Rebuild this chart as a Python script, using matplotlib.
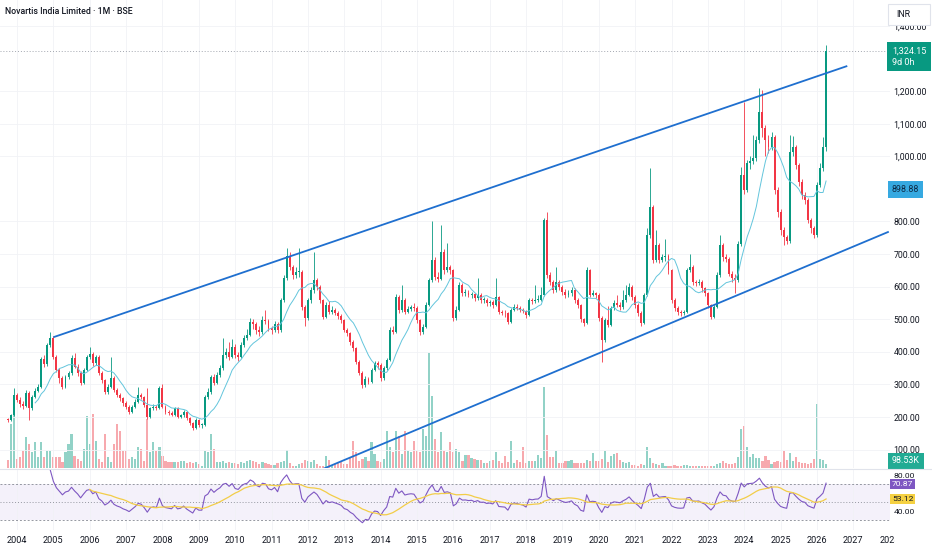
import numpy as np
import pandas as pd
import matplotlib
matplotlib.use("Agg")
import matplotlib.pyplot as plt
from matplotlib.patches import Rectangle

plt.rcParams['font.family'] = ['Roboto', 'DejaVu Sans']

# ---------------- data (monthly, Oct 2003 .. Apr 2026) ----------------
start_month = "2003-10"
closes = [
    190, 206, 268,
    252, 240, 234, 275, 228, 263, 281, 293, 377, 364, 421, 444,
    385, 344, 319, 293, 324, 334, 380, 355, 334, 304, 344, 385,
    395, 365, 385, 334, 314, 278, 293, 319, 283, 268, 258, 242,
    232, 217, 232, 247, 268, 262, 237, 201, 227, 232, 228, 288,
    232, 217, 212, 207, 227, 201, 205, 217, 196, 181, 166, 191,
    176, 176, 262, 278, 324, 305, 330, 350, 390, 400, 385, 416,
    390, 385, 420, 442, 452, 493, 485, 467, 460, 498, 495, 472,
    467, 487, 467, 559, 626, 695, 660, 636, 645, 646, 539, 503,
    559, 590, 621, 600, 559, 508, 544, 523, 530, 520, 510, 498,
    467, 457, 430, 411, 370, 335, 298, 318, 309, 345, 365, 360,
    319, 350, 375, 467, 462, 569, 528, 559, 523, 533, 538, 535,
    498, 462, 477, 544, 620, 682, 631, 625, 707, 651, 660, 651,
    503, 529, 605, 580, 582, 575, 578, 564, 575, 559, 560, 549,
    552, 545, 569, 523, 520, 518, 493, 529, 539, 535, 530, 525,
    513, 559, 555, 559, 560, 575, 805, 636, 615, 590, 615, 600,
    585, 575, 580, 590, 559, 544, 500, 488, 651, 575, 580, 575,
    503, 436, 498, 483, 534, 549, 545, 539, 559, 575, 600, 569,
    544, 520, 488, 575, 759, 845, 682, 728, 682, 690, 695, 651,
    559, 535, 523, 520, 523, 651, 661, 615, 612, 615, 595, 580,
    544, 508, 539, 636, 728, 692, 685, 640, 626, 620, 730, 942,
    897, 978, 985, 994, 1050, 1137, 1086, 1050, 1030, 1060, 897, 830,
    774, 753, 740, 1014, 1029, 973, 922, 880, 866, 805, 780, 759,
    912, 963, 1030, 1324.15,
]
opens = [
    193, 190, 206,
    268, 252, 240, 234, 275, 228, 263, 281, 293, 377, 364, 421,
    444, 385, 344, 319, 293, 324, 334, 380, 355, 334, 304, 344,
    385, 395, 365, 385, 334, 314, 278, 293, 319, 283, 268, 258,
    242, 232, 217, 232, 247, 268, 262, 237, 201, 227, 232, 228,
    288, 232, 217, 212, 207, 227, 201, 205, 217, 196, 181, 166,
    191, 176, 176, 262, 278, 324, 305, 330, 350, 390, 400, 385,
    416, 390, 385, 420, 442, 452, 493, 485, 467, 460, 498, 495,
    472, 467, 487, 467, 559, 626, 695, 660, 636, 645, 646, 539,
    503, 559, 590, 621, 600, 559, 508, 544, 523, 530, 520, 510,
    498, 467, 457, 430, 411, 370, 335, 298, 318, 309, 345, 365,
    360, 319, 350, 375, 467, 462, 569, 528, 559, 523, 533, 538,
    535, 498, 462, 477, 544, 620, 682, 631, 625, 707, 651, 660,
    651, 503, 529, 605, 580, 582, 575, 578, 564, 575, 559, 560,
    549, 552, 545, 569, 523, 520, 518, 493, 529, 539, 535, 530,
    525, 513, 559, 555, 559, 560, 575, 805, 636, 615, 590, 615,
    600, 585, 575, 580, 590, 559, 544, 500, 488, 651, 575, 580,
    575, 503, 436, 498, 483, 534, 549, 545, 539, 559, 575, 600,
    569, 544, 520, 488, 575, 759, 845, 682, 728, 682, 690, 695,
    651, 559, 535, 523, 520, 523, 651, 661, 615, 612, 615, 595,
    580, 544, 508, 539, 636, 728, 692, 685, 640, 626, 620, 730,
    942, 897, 978, 985, 994, 1050, 1137, 1086, 1050, 1030, 1060, 897,
    830, 774, 753, 740, 1014, 1029, 973, 922, 880, 866, 805, 780,
    759, 912, 963, 1030,
]
highs = [
    198, 210, 289,
    275, 262, 248, 282, 280, 268, 290, 300, 385, 392, 428, 462,
    450, 392, 350, 325, 330, 342, 392, 398, 362, 340, 350, 392,
    416, 400, 392, 390, 342, 318, 300, 385, 325, 290, 275, 262,
    248, 236, 238, 255, 292, 275, 266, 288, 232, 240, 238, 296,
    302, 236, 222, 218, 232, 230, 210, 222, 220, 200, 186, 196,
    194, 182, 268, 288, 330, 332, 338, 360, 442, 412, 430, 440,
    425, 400, 430, 452, 470, 505, 500, 492, 478, 510, 528, 502,
    480, 495, 492, 566, 635, 720, 705, 668, 660, 718, 652, 545,
    565, 600, 705, 628, 605, 562, 552, 555, 540, 535, 525, 515,
    502, 472, 460, 436, 415, 375, 340, 325, 322, 352, 372, 372,
    365, 356, 382, 475, 480, 578, 574, 605, 565, 540, 545, 550,
    540, 502, 485, 552, 628, 800, 690, 645, 789, 715, 733, 668,
    655, 540, 615, 612, 592, 590, 585, 582, 626, 580, 568, 565,
    560, 558, 626, 572, 530, 528, 522, 535, 548, 546, 540, 535,
    530, 566, 565, 605, 575, 600, 812, 830, 645, 620, 660, 622,
    605, 592, 590, 600, 595, 565, 548, 505, 660, 655, 590, 585,
    580, 510, 505, 540, 542, 560, 575, 552, 590, 605, 612, 606,
    575, 550, 525, 582, 780, 963, 850, 775, 735, 700, 745, 700,
    655, 565, 540, 530, 530, 658, 700, 668, 622, 625, 620, 600,
    585, 548, 545, 645, 758, 735, 700, 692, 648, 640, 740, 968,
    1168, 990, 1000, 1065, 1062, 1208, 1203, 1095, 1065, 1075, 1065, 905,
    838, 782, 760, 1065, 1062, 1035, 980, 930, 890, 872, 812, 785,
    920, 980, 1060, 1340,
]
lows = [
    186, 188, 203,
    245, 232, 226, 230, 191, 222, 258, 276, 290, 355, 358, 415,
    378, 338, 305, 285, 288, 318, 330, 350, 326, 298, 300, 340,
    378, 358, 360, 328, 305, 270, 272, 290, 276, 262, 250, 235,
    225, 210, 212, 228, 244, 255, 230, 195, 198, 222, 222, 225,
    228, 210, 206, 202, 204, 196, 196, 200, 190, 176, 160, 163,
    170, 168, 174, 255, 272, 298, 300, 322, 345, 382, 375, 380,
    382, 372, 380, 415, 435, 448, 470, 455, 450, 455, 485, 465,
    455, 460, 458, 462, 552, 620, 650, 625, 628, 630, 530, 480,
    498, 550, 582, 590, 550, 500, 503, 515, 515, 512, 502, 490,
    460, 448, 422, 402, 362, 328, 290, 293, 302, 305, 340, 348,
    312, 315, 345, 372, 455, 458, 520, 522, 515, 518, 525, 525,
    490, 452, 455, 472, 540, 615, 622, 615, 620, 640, 645, 640,
    495, 498, 525, 572, 572, 568, 565, 555, 558, 550, 550, 540,
    542, 535, 540, 515, 512, 508, 485, 488, 525, 528, 522, 518,
    505, 510, 548, 550, 552, 555, 570, 628, 605, 580, 585, 590,
    575, 565, 568, 572, 550, 535, 492, 478, 485, 568, 570, 565,
    495, 370, 430, 475, 478, 528, 538, 530, 532, 552, 570, 560,
    535, 510, 478, 485, 570, 750, 672, 675, 672, 675, 680, 640,
    550, 525, 512, 510, 512, 520, 645, 605, 602, 605, 585, 570,
    535, 500, 503, 535, 630, 680, 675, 632, 615, 580, 615, 725,
    885, 890, 960, 975, 985, 1040, 1060, 1000, 1010, 1020, 885, 815,
    760, 728, 730, 735, 1000, 960, 910, 870, 855, 795, 765, 750,
    752, 905, 955, 1015,
]
volume_k = [
    240, 1320, 1650, 270, 330, 510, 930, 720, 480, 780,
    330, 780, 330, 510, 510, 330, 330, 330, 180, 480,
    720, 1020, 360, 270, 210, 570, 1560, 720, 1620, 810,
    270, 180, 1020, 330, 180, 720, 1320, 1110, 510, 510,
    270, 330, 270, 630, 570, 210, 1470, 480, 780, 510,
    630, 360, 210, 180, 180, 180, 180, 210, 210, 150,
    180, 150, 180, 120, 60, 510, 480, 1020, 570, 180,
    180, 210, 150, 180, 150, 150, 120, 180, 150, 210,
    240, 210, 180, 120, 180, 150, 120, 90, 90, 150,
    180, 210, 540, 150, 60, 60, 120, 150, 240,
    210, 180, 240, 120, 60, 60, 360, 240, 90, 120,
    150, 180, 120, 120, 330, 810, 480, 210, 270, 330,
    210, 780, 420, 210, 180, 270, 1110, 630, 480, 1110,
    960, 420, 1110, 510, 480, 810, 510, 480, 1170, 960,
    3450, 2160, 870, 480, 1080, 510, 480, 780, 480, 570,
    480, 210,
    390, 390, 300, 270, 240, 240, 150, 150, 210, 240,
    480, 210, 150, 360, 180, 810, 150, 240, 180, 630,
    150, 210, 210, 210, 390, 300, 2430, 990, 330, 330,
    510, 150, 150, 210, 210, 240, 150, 150, 150, 150,
    240, 210, 450, 210, 210, 270, 510, 180, 360, 420,
    450, 240, 180, 150, 180, 90, 90, 60, 120, 90,
    630, 300, 150, 120, 90, 150, 60, 60, 60, 90,
    60, 60, 90, 90, 60, 60, 60, 60, 60, 60,
    60, 60, 60, 120, 150, 210, 150, 120, 120, 150,
    330, 1170, 1260, 630, 330, 420, 300, 300, 210, 360,
    240, 120, 180, 210, 180, 510, 240, 450, 210, 330,
    180, 150, 150, 120, 150, 270, 1920, 270, 240, 98.53,
]
years = list(range(2004, 2029))
# 900 and 1,300 sit under the value boxes in the reference, so they are not shown
price_ticks = [100, 200, 300, 400, 500, 600, 700, 800, 1000, 1100, 1200, 1400]
upper_line = ([15.0, 277.0], [445.0, 1277.0])
lower_line = ([104.0, 290.7], [41.0, 768.7])
last_price = 1324.15
ma_label, rsi_label, rsi_ma_label, vol_label = 898.88, 70.87, 53.12, "98.53K"

n = len(closes)
assert len(opens) == n and len(highs) == n and len(lows) == n and len(volume_k) == n

idx = np.arange(n)
o = np.array(opens, float); c = np.array(closes, float)
h = np.array(highs, float); l = np.array(lows, float)
v = np.array(volume_k, float)
up = c >= o

GREEN, RED = '#089981', '#f23645'
VGREEN, VRED = '#92d2c7', '#f7a9ae'
TXT = '#131722'

# indicators
cs = pd.Series(c)
ma10 = cs.rolling(10).mean()
d = cs.diff()
gain = d.clip(lower=0); loss = -d.clip(upper=0)
ag = gain.ewm(alpha=1/14, adjust=False, min_periods=14).mean()
al = loss.ewm(alpha=1/14, adjust=False, min_periods=14).mean()
rsi = 100 - 100 / (1 + ag / al)
rsi_ma = rsi.rolling(14).mean()

# ---------------- layout (pixel based) ----------------
W, H = 932, 550
fig = plt.figure(figsize=(W/100, H/100), dpi=100)
fig.patch.set_facecolor('white')
PANE_R = 890
P_BOT = 467.5
R_TOP, R_BOT = 470, 530
XL = (-2.607, 291.1)

def rect(top, bot):
    return [0, 1 - bot/H, PANE_R/W, (bot-top)/H]

ax_vol = fig.add_axes(rect(0, P_BOT))
ax = fig.add_axes(rect(0, P_BOT), facecolor='none')
ax_rsi = fig.add_axes(rect(R_TOP, R_BOT))

year_ticks = [3 + 12*k for k in range(len(years))]

# volume
ax_vol.bar(idx, v, width=0.72, color=np.where(up, VGREEN, VRED), linewidth=0)
ax_vol.set_xlim(*XL)
ax_vol.set_ylim(0, P_BOT*30)
ax_vol.axis('off')

# price
ax.set_xlim(*XL)
ax.set_ylim(45.4, 1479.4)
for s in ax.spines.values():
    s.set_visible(False)
ax.set_xticks(year_ticks)
ax.set_yticks(price_ticks)
ax.set_yticklabels([f"{t:,.2f}" for t in price_ticks])
ax.yaxis.tick_right()
ax.tick_params(axis='y', length=0, pad=2.4, labelsize=6.3, labelcolor=TXT)
ax.tick_params(axis='x', length=0, labelbottom=False)
ax.grid(True, color='#f1f2f6', lw=0.6, zorder=0)
ax.set_axisbelow(True)

cols = np.where(up, GREEN, RED)
ax.vlines(idx, l, h, colors=cols, lw=0.6, zorder=2)
body = np.maximum(np.abs(c - o), 2.5)
ax.bar(idx, body, bottom=np.minimum(o, c), width=0.64, color=cols, linewidth=0, zorder=3)
ax.plot(idx, ma10, color='#63c5dc', lw=0.7, zorder=4)
ax.plot(*upper_line, color='#1f6fcf', lw=1.3, zorder=5, solid_capstyle='butt')
ax.plot(*lower_line, color='#1f6fcf', lw=1.3, zorder=5, solid_capstyle='butt')
ax.axhline(last_price, color='#a3a7b0', lw=0.7, ls=(0, (1, 2)), zorder=1)

def rlabel(axis, y, text, fc, tc, dy_pt=0.0, fs=6.3, pad=0.4):
    axis.annotate(text, xy=(1.0, y), xycoords=axis.get_yaxis_transform(),
                  xytext=(1.4, dy_pt), textcoords='offset points',
                  ha='left', va='center', fontsize=fs, color=tc,
                  bbox=dict(boxstyle=f'square,pad={pad}', fc=fc, ec='none'),
                  annotation_clip=False, zorder=10, linespacing=1.3)

rlabel(ax, last_price, f"{last_price:,.2f}\n9d 0h", GREEN, 'white', dy_pt=-4.3, fs=6.5, pad=0.5)
rlabel(ax, ma_label, f"{ma_label:,.2f}", '#36a9e1', '#0d2a45', fs=6.4, pad=0.45)
ax_vol.annotate(vol_label, xy=(1.0, 98.53), xycoords=ax_vol.get_yaxis_transform(),
                xytext=(1.4, 2.5), textcoords='offset points', ha='left', va='center',
                fontsize=6.4, color='white',
                bbox=dict(boxstyle='square,pad=0.42', fc='#22ab94', ec='none'),
                annotation_clip=False, zorder=10)

# RSI pane
ax_rsi.set_xlim(*XL)
ax_rsi.set_ylim(18.89, 85.56)
for s in ax_rsi.spines.values():
    s.set_visible(False)
ax_rsi.axhspan(30, 70, color='#7e57c2', alpha=0.08, lw=0)
for lv, ls in [(70, (0, (2, 2))), (50, (0, (1, 2))), (30, (0, (2, 2)))]:
    ax_rsi.axhline(lv, color='#9598a1', lw=0.7, ls=ls)
ax_rsi.plot(idx, rsi, color='#7e57c2', lw=0.8)
ax_rsi.plot(idx, rsi_ma, color='#f2cd48', lw=0.9)
ax_rsi.set_xticks(year_ticks)
ax_rsi.set_xticklabels([str(y) for y in years])
ax_rsi.tick_params(axis='x', length=0, pad=4.0, labelsize=6.6, labelcolor=TXT)
ax_rsi.set_yticks([40, 80])
ax_rsi.set_yticklabels(["40.00", "80.00"])
ax_rsi.yaxis.tick_right()
ax_rsi.tick_params(axis='y', length=0, pad=2.4, labelsize=6.1, labelcolor=TXT)
ax_rsi.grid(True, axis='x', color='#f1f2f6', lw=0.6)
rlabel(ax_rsi, rsi_label, f"{rsi_label:.2f}", '#7e57c2', 'white', dy_pt=-0.6, fs=6.1, pad=0.25)
rlabel(ax_rsi, rsi_ma_label, f"{rsi_ma_label:.2f}", '#f5d142', TXT, fs=6.1, pad=0.25)

# pane separator
fig.add_artist(plt.Line2D([0, 1], [1 - 469/H, 1 - 469/H], color='#e0e3eb', lw=0.8))

# title
fig.text(5/W, 1 - 12/H, "Novartis India Limited · 1M · BSE", fontsize=6.3,
         color=TXT, ha='left', va='center', weight='medium')

# INR box
fig.add_artist(Rectangle((888/W, 1 - 25/H), 42/W, 21/H, transform=fig.transFigure,
                         fc='white', ec='#e0e3eb', lw=0.8, zorder=20))
fig.text(896/W, 1 - 14.5/H, "INR", fontsize=6.3, color=TXT, ha='left', va='center', zorder=21)

# clip of the last time label by the price scale
fig.add_artist(Rectangle((895/W, 0), (W-895)/W, 16/H, transform=fig.transFigure,
                         fc='white', ec='none', zorder=20))

fig.savefig("out.png", dpi=100)
